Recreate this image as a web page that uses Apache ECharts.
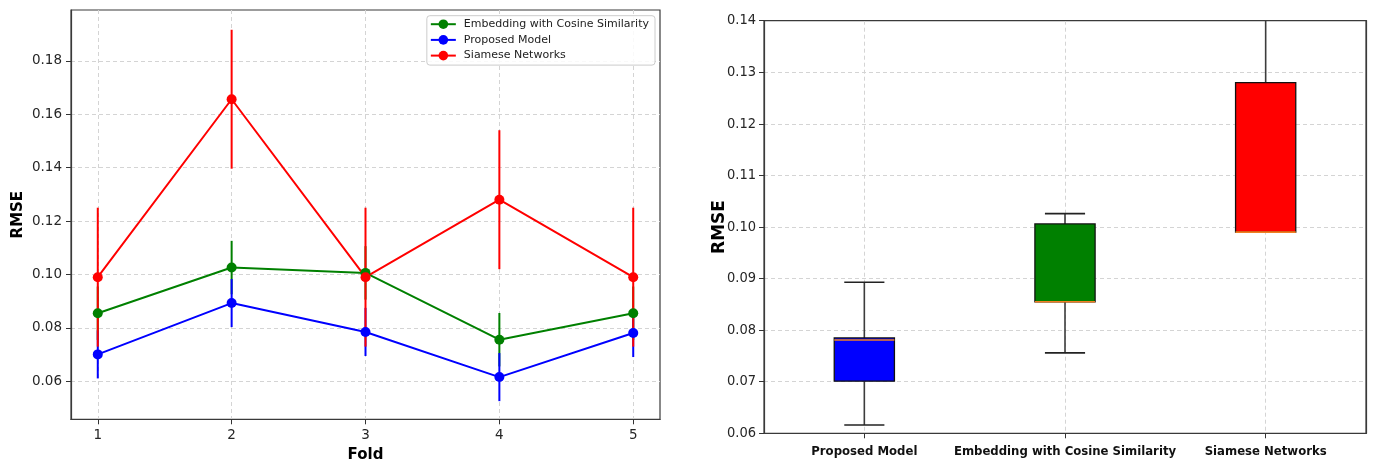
<!DOCTYPE html>
<html><head><meta charset="utf-8">
<script src="https://cdn.jsdelivr.net/npm/echarts@6/dist/echarts.min.js"></script>
<style>html,body{margin:0;padding:0;background:#fff}#c{width:1375px;height:465px}</style>
</head><body><div id="c"></div>
<script>
// ---------- data ----------
const folds = [1, 2, 3, 4, 5];
const foldTicks = [1, 2, 3, 4, 5];
const leftYTicks = [0.06, 0.08, 0.10, 0.12, 0.14, 0.16, 0.18];
const rightYTicks = [0.06, 0.07, 0.08, 0.09, 0.10, 0.11, 0.12, 0.13, 0.14];

const embeddingRMSE = [0.0855, 0.1026, 0.1006, 0.0756, 0.0855];
const embeddingErr  = [0.010, 0.010, 0.010, 0.010, 0.010];
const proposedRMSE  = [0.0701, 0.0893, 0.0785, 0.0616, 0.0781];
const proposedErr   = [0.009, 0.009, 0.009, 0.009, 0.009];
const siameseRMSE   = [0.0990, 0.1656, 0.0990, 0.1280, 0.0990];
const siameseErr    = [0.026, 0.026, 0.026, 0.026, 0.026];

const boxCategories = ['Proposed Model', 'Embedding with Cosine Similarity', 'Siamese Networks'];
const boxPositions = [1, 2, 3];
// [min, Q1, median, Q3, max]
const boxProposed  = [0.0616, 0.0701, 0.0781, 0.0785, 0.0893];
const boxEmbedding = [0.0756, 0.0855, 0.0855, 0.1006, 0.1026];
const boxSiamese   = [0.0990, 0.0990, 0.0990, 0.1280, 0.1656];

// ---------- styles ----------
const GREEN = '#008000', BLUE = '#0000ff', RED = '#ff0000';
const FRAME = '#3a3a3a';
const NARROW = 'DejaVu Sans Condensed, DejaVu Sans';
const gridLine = { show: true, lineStyle: { color: '#d4d4d4', type: [4, 3], width: 1 } };
const tickStyle = { show: true, length: 5, inside: false, lineStyle: { color: '#333', width: 1 } };

function errData(vals, errs) {
  return folds.map((f, i) => [f, vals[i] - errs[i], vals[i] + errs[i]]);
}
function errSeries(name, vals, errs, color) {
  return {
    type: 'custom', name: name, xAxisIndex: 0, yAxisIndex: 0,
    data: errData(vals, errs), encode: { x: 0, y: [1, 2] },
    silent: true, z: 2,
    renderItem: function (params, api) {
      const p1 = api.coord([api.value(0), api.value(1)]);
      const p2 = api.coord([api.value(0), api.value(2)]);
      return { type: 'line', shape: { x1: p1[0], y1: p1[1], x2: p2[0], y2: p2[1] },
               style: { stroke: color, lineWidth: 2 } };
    }
  };
}
function lineSeries(name, vals, color) {
  return {
    type: 'line', name: name, xAxisIndex: 0, yAxisIndex: 0,
    data: folds.map((f, i) => [f, vals[i]]),
    symbol: 'circle', symbolSize: 10, z: 2,
    lineStyle: { color: color, width: 2 }, itemStyle: { color: color },
    emphasis: { disabled: true }, animation: false
  };
}
const boxColors = [BLUE, GREEN, RED];
const boxSeriesData = [boxProposed, boxEmbedding, boxSiamese].map((b, i) => [boxPositions[i]].concat(b));

const frameAxis = { axisLine: { show: true, lineStyle: { color: FRAME, width: 1.2 } },
                    axisTick: { show: false }, axisLabel: { show: false }, splitLine: { show: false }, z: 5 };

const option = {
  animation: false,
  backgroundColor: '#fff',
  grid: [
    { left: 71, top: 10, width: 589, height: 409.3, show: true, borderColor: FRAME, borderWidth: 1.2, outerBoundsMode: 'none', containLabel: false },
    { left: 764, top: 20.7, width: 602, height: 412.6, show: true, borderColor: FRAME, borderWidth: 1.2, outerBoundsMode: 'none', containLabel: false }
  ],
  legend: {
    data: ['Embedding with Cosine Similarity', 'Proposed Model', 'Siamese Networks'],
    orient: 'vertical', right: 720, top: 15.7,
    itemWidth: 25, itemHeight: 12, itemGap: 4.7,
    padding: [3, 6, 4, 3],
    backgroundColor: 'rgba(255,255,255,0.85)', borderColor: '#cccccc', borderWidth: 1, borderRadius: 3,
    textStyle: { fontFamily: 'DejaVu Sans', fontSize: 11, color: '#222', padding: [0, 0, 0, 3] },
    selectedMode: false
  },
  xAxis: [
    { type: 'value', gridIndex: 0, min: 0.8, max: 5.2,
      axisLine: { show: true, lineStyle: { color: FRAME, width: 1.2 } },
      axisTick: Object.assign({ customValues: foldTicks }, tickStyle),
      axisLabel: { customValues: foldTicks, margin: 9, fontFamily: 'DejaVu Sans', fontSize: 13.5, color: '#262626' },
      splitLine: gridLine,
      name: 'Fold', nameLocation: 'middle', nameGap: 28, nameMoveOverlap: false,
      nameTextStyle: { fontFamily: 'DejaVu Sans', fontWeight: 'bold', fontSize: 15, color: '#000' } },
    { type: 'value', gridIndex: 1, min: 0.5, max: 3.5,
      axisLine: { show: true, lineStyle: { color: FRAME, width: 1.2 } },
      axisTick: Object.assign({ customValues: boxPositions }, tickStyle),
      axisLabel: { customValues: boxPositions, margin: 12, hideOverlap: false, fontFamily: NARROW, fontWeight: 'bold', fontSize: 13, color: '#111',
                   formatter: v => boxCategories[Math.round(v) - 1] },
      splitLine: gridLine },
    Object.assign({ type: 'value', gridIndex: 1, min: 0.5, max: 3.5, position: 'top' }, frameAxis)
  ],
  yAxis: [
    { type: 'value', gridIndex: 0, min: 0.0458, max: 0.199,
      axisLine: { show: true, lineStyle: { color: FRAME, width: 1.2 } },
      axisTick: Object.assign({ customValues: leftYTicks }, tickStyle),
      axisLabel: { customValues: leftYTicks, margin: 9, fontFamily: 'DejaVu Sans', fontSize: 13.5, color: '#262626',
                   formatter: v => v.toFixed(2) },
      splitLine: gridLine,
      name: 'RMSE', nameLocation: 'middle', nameGap: 45, nameRotate: 90, nameMoveOverlap: false,
      nameTextStyle: { fontFamily: 'DejaVu Sans', fontWeight: 'bold', fontSize: 15, color: '#000' } },
    { type: 'value', gridIndex: 1, min: 0.06, max: 0.14,
      axisLine: { show: true, lineStyle: { color: FRAME, width: 1.2 } },
      axisTick: Object.assign({ customValues: rightYTicks }, tickStyle),
      axisLabel: { customValues: rightYTicks, margin: 8, fontFamily: NARROW, fontSize: 14.5, color: '#262626',
                   formatter: v => v.toFixed(2) },
      splitLine: gridLine,
      name: 'RMSE', nameLocation: 'middle', nameGap: 36, nameRotate: 90, nameMoveOverlap: false,
      nameTextStyle: { fontFamily: 'DejaVu Sans', fontWeight: 'bold', fontSize: 17, color: '#000' } },
    Object.assign({ type: 'value', gridIndex: 1, min: 0.06, max: 0.14, position: 'right' }, frameAxis)
  ],
  series: [
    errSeries('embErr', embeddingRMSE, embeddingErr, GREEN),
    lineSeries('Embedding with Cosine Similarity', embeddingRMSE, GREEN),
    errSeries('propErr', proposedRMSE, proposedErr, BLUE),
    lineSeries('Proposed Model', proposedRMSE, BLUE),
    errSeries('siamErr', siameseRMSE, siameseErr, RED),
    lineSeries('Siamese Networks', siameseRMSE, RED),
    {
      type: 'custom', name: 'boxes', xAxisIndex: 1, yAxisIndex: 1, clip: true, silent: true,
      data: boxSeriesData, encode: { x: 0, y: [1, 2, 3, 4, 5] },
      renderItem: function (params, api) {
        const pos = api.value(0);
        const idx = params.dataIndex;
        const unit = api.size([1, 0])[0];
        const bw = unit * 0.3, cw = unit * 0.2;
        const cx = api.coord([pos, api.value(3)])[0];
        const yMin = api.coord([pos, api.value(1)])[1];
        const yQ1 = api.coord([pos, api.value(2)])[1];
        const yMed = api.coord([pos, api.value(3)])[1];
        const yQ3 = api.coord([pos, api.value(4)])[1];
        const yMax = api.coord([pos, api.value(5)])[1];
        const wStyle = { stroke: '#3c3c3c', lineWidth: 1.6 };
        return { type: 'group', children: [
          { type: 'line', shape: { x1: cx, y1: yQ1, x2: cx, y2: yMin }, style: wStyle },
          { type: 'line', shape: { x1: cx, y1: yQ3, x2: cx, y2: yMax }, style: wStyle },
          { type: 'line', shape: { x1: cx - cw / 2, y1: yMin, x2: cx + cw / 2, y2: yMin }, style: { stroke: '#222', lineWidth: 1.6 } },
          { type: 'line', shape: { x1: cx - cw / 2, y1: yMax, x2: cx + cw / 2, y2: yMax }, style: { stroke: '#222', lineWidth: 1.6 } },
          { type: 'rect', shape: { x: cx - bw / 2, y: yQ3, width: bw, height: yQ1 - yQ3 },
            style: { fill: boxColors[idx], stroke: '#111', lineWidth: 1.3 } },
          { type: 'line', shape: { x1: cx - bw / 2, y1: yMed, x2: cx + bw / 2, y2: yMed },
            style: { stroke: '#f08020', lineWidth: 1.6 } }
        ] };
      }
    }
  ]
};
const chart = echarts.init(document.getElementById('c'), null, { renderer: 'canvas' });
chart.setOption(option);
</script></body></html>
